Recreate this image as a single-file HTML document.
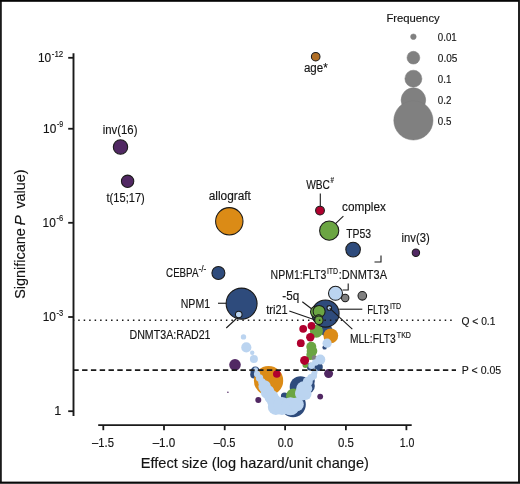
<!DOCTYPE html>
<html><head><meta charset="utf-8"><style>
html,body{margin:0;padding:0;background:#fff;}
body{width:520px;height:484px;overflow:hidden;}
svg{display:block;will-change:transform;}
text{font-family:"Liberation Sans",sans-serif;fill:#141414;stroke:#141414;stroke-width:0.15px;}
.tx{opacity:0.999;}
</style></head><body>
<svg width="520" height="484" viewBox="0 0 520 484">
<rect x="0" y="0" width="520" height="484" fill="#fff"/>
<circle cx="293.1" cy="404.6" r="12.7" fill="#2e4b7c"/><circle cx="300.5" cy="387" r="10.8" fill="#2e4b7c"/><circle cx="306.5" cy="386" r="8.3" fill="#2e4b7c"/><circle cx="310.5" cy="381" r="4.3" fill="#2e4b7c"/><circle cx="284.5" cy="396" r="3.6" fill="#2e4b7c"/><circle cx="255.3" cy="371.2" r="4.7" fill="#2e4b7c"/><circle cx="254.2" cy="374.5" r="4" fill="#2e4b7c"/><circle cx="318.7" cy="367" r="4.1" fill="#2e4b7c"/><circle cx="310.8" cy="366.8" r="4" fill="#2e4b7c"/><circle cx="324.6" cy="347.4" r="2.2" fill="#2e4b7c"/><circle cx="326.6" cy="330.5" r="6" fill="#2e4b7c"/><circle cx="268.55" cy="380.65" r="14.65" fill="#db8b16"/><circle cx="330.8" cy="335.8" r="7.4" fill="#db8b16"/><circle cx="316.4" cy="331.2" r="6.5" fill="#6ba543"/><circle cx="311.3" cy="346.7" r="5" fill="#6ba543"/><circle cx="312" cy="351" r="5.3" fill="#6ba543"/><circle cx="311" cy="354.5" r="4.6" fill="#6ba543"/><circle cx="310.4" cy="356.3" r="3.7" fill="#6ba543"/><circle cx="305.4" cy="365" r="2.9" fill="#6ba543"/><circle cx="293.5" cy="396" r="7.5" fill="#6ba543"/><circle cx="314.5" cy="357.9" r="2.7" fill="#808080"/><circle cx="327.1" cy="343.2" r="4.6" fill="#bbd4f0"/><circle cx="243.5" cy="336.9" r="2.7" fill="#bbd4f0"/><circle cx="246.3" cy="347.4" r="5.1" fill="#bbd4f0"/><circle cx="252.2" cy="352.8" r="2.2" fill="#bbd4f0"/><circle cx="253.9" cy="359" r="4" fill="#bbd4f0"/><circle cx="320.3" cy="359.6" r="5" fill="#bbd4f0"/><circle cx="311.6" cy="365.8" r="3.3" fill="#bbd4f0"/><circle cx="315.4" cy="362.5" r="3.3" fill="#bbd4f0"/><circle cx="314.5" cy="372.8" r="2.9" fill="#bbd4f0"/><circle cx="313.7" cy="376.1" r="3.3" fill="#bbd4f0"/><circle cx="255.6" cy="369.5" r="2.3" fill="#bbd4f0"/><circle cx="257" cy="374" r="3.2" fill="#bbd4f0"/><circle cx="259.5" cy="378" r="3.7" fill="#bbd4f0"/><circle cx="262" cy="382" r="3.8" fill="#bbd4f0"/><circle cx="264.6" cy="386.5" r="6.2" fill="#bbd4f0"/><circle cx="267.6" cy="392" r="6.9" fill="#bbd4f0"/><circle cx="271.5" cy="397" r="7" fill="#bbd4f0"/><circle cx="274" cy="401" r="7" fill="#bbd4f0"/><circle cx="275.8" cy="406.9" r="8" fill="#bbd4f0"/><circle cx="282" cy="406" r="9" fill="#bbd4f0"/><circle cx="290.5" cy="406.3" r="9" fill="#bbd4f0"/><circle cx="296.8" cy="404.4" r="7" fill="#bbd4f0"/><circle cx="302" cy="393.5" r="7" fill="#bbd4f0"/><circle cx="305.5" cy="394" r="6" fill="#bbd4f0"/><circle cx="307.6" cy="388.5" r="4.7" fill="#bbd4f0"/><circle cx="303.8" cy="388.8" r="7.6" fill="#bbd4f0"/><circle cx="307.8" cy="381.8" r="5" fill="#bbd4f0"/><circle cx="311" cy="377.5" r="3.6" fill="#bbd4f0"/><circle cx="314.3" cy="373.3" r="2.6" fill="#bbd4f0"/><circle cx="315.3" cy="371" r="2.3" fill="#bbd4f0"/><circle cx="303.2" cy="328.8" r="3.9" fill="#b0002e"/><circle cx="311.5" cy="325.8" r="3.9" fill="#b0002e"/><circle cx="310.3" cy="337.2" r="4.2" fill="#b0002e"/><circle cx="300.8" cy="343.2" r="3.9" fill="#b0002e"/><circle cx="304.6" cy="360.4" r="4.5" fill="#b0002e"/><circle cx="276.8" cy="374" r="3.8" fill="#b0002e"/><circle cx="235" cy="364.8" r="5.8" fill="#512863"/><circle cx="328.6" cy="373.6" r="4.5" fill="#512863"/><circle cx="258.3" cy="400.1" r="3" fill="#512863"/><circle cx="320.2" cy="396.6" r="2.9" fill="#512863"/><circle cx="227.9" cy="392.2" r="0.8" fill="#512863"/><circle cx="315.7" cy="56.7" r="4.3" fill="#b06e25" stroke="#1a1a1a" stroke-width="1.05"/><circle cx="120.5" cy="147" r="7.2" fill="#512863" stroke="#1a1a1a" stroke-width="1.05"/><circle cx="127.6" cy="181.3" r="6.2" fill="#512863" stroke="#1a1a1a" stroke-width="1.05"/><circle cx="229.3" cy="221.3" r="13.7" fill="#db8b16" stroke="#1a1a1a" stroke-width="1.05"/><circle cx="320" cy="210.6" r="4.4" fill="#b0002e" stroke="#1a1a1a" stroke-width="1.05"/><circle cx="329.2" cy="230.7" r="9.6" fill="#6ba543" stroke="#1a1a1a" stroke-width="1.05"/><circle cx="353.1" cy="249.6" r="7.3" fill="#2e4b7c" stroke="#1a1a1a" stroke-width="1.05"/><circle cx="415.9" cy="252.7" r="3.7" fill="#512863" stroke="#1a1a1a" stroke-width="1.05"/><circle cx="218.4" cy="273" r="6.5" fill="#2e4b7c" stroke="#1a1a1a" stroke-width="1.05"/><circle cx="241.6" cy="303.6" r="15.5" fill="#2e4b7c" stroke="#1a1a1a" stroke-width="1.05"/><circle cx="238.75" cy="314.5" r="3.3" fill="#bbd4f0" stroke="#1a1a1a" stroke-width="1.05"/><circle cx="345.2" cy="298" r="3.7" fill="#808080" stroke="#1a1a1a" stroke-width="1.05"/><circle cx="362.3" cy="295.8" r="4.3" fill="#808080" stroke="#1a1a1a" stroke-width="1.05"/><circle cx="335.5" cy="293.3" r="7" fill="#bbd4f0" stroke="#1a1a1a" stroke-width="1.05"/><circle cx="325.5" cy="313.5" r="13.6" fill="#2e4b7c" stroke="#1a1a1a" stroke-width="1.05"/><circle cx="316.4" cy="311.8" r="5.9" fill="#6ba543" stroke="#1a1a1a" stroke-width="1.05"/><circle cx="319.1" cy="311.4" r="6" fill="#6ba543" stroke="#1a1a1a" stroke-width="1.05"/><circle cx="318.7" cy="318.6" r="3.8" fill="#6ba543" stroke="#1a1a1a" stroke-width="1.05"/><circle cx="318.9" cy="320.3" r="4.2" fill="#6ba543" stroke="#1a1a1a" stroke-width="1.05"/><circle cx="329.3" cy="307.9" r="2.3" fill="#bbd4f0" stroke="#1a1a1a" stroke-width="1.05"/><line x1="218" y1="303.25" x2="226.25" y2="303.25" stroke="#1a1a1a" stroke-width="1.1"/><line x1="226.25" y1="328" x2="236.25" y2="318.75" stroke="#1a1a1a" stroke-width="1.1"/><line x1="320.3" y1="193.4" x2="320.3" y2="206.3" stroke="#1a1a1a" stroke-width="1.1"/><line x1="335.5" y1="223.7" x2="343.4" y2="216.2" stroke="#1a1a1a" stroke-width="1.1"/><polyline points="342.6,290 348.2,290 348.2,283.4" fill="none" stroke="#1a1a1a" stroke-width="1.1"/><polyline points="374.5,262 381,262 381,255.4" fill="none" stroke="#1a1a1a" stroke-width="1.1"/><line x1="302.3" y1="301.8" x2="311.5" y2="308.7" stroke="#1a1a1a" stroke-width="1.1"/><line x1="289.3" y1="311" x2="314.6" y2="319.8" stroke="#1a1a1a" stroke-width="1.1"/><line x1="339.2" y1="309.2" x2="362.3" y2="309.2" stroke="#1a1a1a" stroke-width="1.1"/><line x1="329.6" y1="308.1" x2="352.3" y2="329.2" stroke="#1a1a1a" stroke-width="1.1"/>
<line x1="73.5" y1="320.3" x2="455.5" y2="320.3" stroke="#1a1a1a" stroke-width="1.6" stroke-dasharray="1.5 3.97" stroke-dashoffset="0.75"/><line x1="73.3" y1="370.1" x2="456" y2="370.1" stroke="#1a1a1a" stroke-width="1.9" stroke-dasharray="5.4 3.4"/>
<line x1="73.5" y1="53.2" x2="73.5" y2="416" stroke="#1a1a1a" stroke-width="1.9"/><line x1="98.2" y1="425.1" x2="411.7" y2="425.1" stroke="#1a1a1a" stroke-width="1.8"/><line x1="68.2" y1="57.8" x2="73.5" y2="57.8" stroke="#1a1a1a" stroke-width="1.8"/><line x1="68.2" y1="128.75" x2="73.5" y2="128.75" stroke="#1a1a1a" stroke-width="1.8"/><line x1="68.2" y1="222.8" x2="73.5" y2="222.8" stroke="#1a1a1a" stroke-width="1.8"/><line x1="68.2" y1="317" x2="73.5" y2="317" stroke="#1a1a1a" stroke-width="1.8"/><line x1="68.2" y1="411.2" x2="73.5" y2="411.2" stroke="#1a1a1a" stroke-width="1.8"/><line x1="103.3" y1="425.1" x2="103.3" y2="430.2" stroke="#1a1a1a" stroke-width="1.8"/><line x1="164" y1="425.1" x2="164" y2="430.2" stroke="#1a1a1a" stroke-width="1.8"/><line x1="224.7" y1="425.1" x2="224.7" y2="430.2" stroke="#1a1a1a" stroke-width="1.8"/><line x1="285.1" y1="425.1" x2="285.1" y2="430.2" stroke="#1a1a1a" stroke-width="1.8"/><line x1="345.9" y1="425.1" x2="345.9" y2="430.2" stroke="#1a1a1a" stroke-width="1.8"/><line x1="406.4" y1="425.1" x2="406.4" y2="430.2" stroke="#1a1a1a" stroke-width="1.8"/>
<g class="tx"><text x="37.9" y="62.3" font-size="12.6" textLength="13.2" lengthAdjust="spacingAndGlyphs">10</text><text x="51.8" y="56.9" font-size="9" textLength="11.5" lengthAdjust="spacingAndGlyphs">-12</text><text x="43.1" y="132.8" font-size="12.6" textLength="13.2" lengthAdjust="spacingAndGlyphs">10</text><text x="57.0" y="127.4" font-size="9" textLength="6.3" lengthAdjust="spacingAndGlyphs">-9</text><text x="42.6" y="226.8" font-size="12.6" textLength="13.2" lengthAdjust="spacingAndGlyphs">10</text><text x="56.5" y="221.4" font-size="9" textLength="6.8" lengthAdjust="spacingAndGlyphs">-6</text><text x="42.699999999999996" y="320.9" font-size="12.6" textLength="13.2" lengthAdjust="spacingAndGlyphs">10</text><text x="56.599999999999994" y="315.5" font-size="9" textLength="6.7" lengthAdjust="spacingAndGlyphs">-3</text><text x="61.3" y="415" font-size="12.6" text-anchor="end">1</text><text x="92.05" y="446.7" font-size="12.8" textLength="21.9" lengthAdjust="spacingAndGlyphs">–1.5</text><text x="152.65" y="446.7" font-size="12.8" textLength="22.7" lengthAdjust="spacingAndGlyphs">–1.0</text><text x="213.79999999999998" y="446.7" font-size="12.8" textLength="21.6" lengthAdjust="spacingAndGlyphs">–0.5</text><text x="277.7" y="446.7" font-size="12.8" textLength="15.4" lengthAdjust="spacingAndGlyphs">0.0</text><text x="337.95" y="446.7" font-size="12.8" textLength="15.9" lengthAdjust="spacingAndGlyphs">0.5</text><text x="399.65" y="446.7" font-size="12.8" textLength="14.7" lengthAdjust="spacingAndGlyphs">1.0</text><text x="140.8" y="468.2" font-size="14.1" textLength="228.1" lengthAdjust="spacingAndGlyphs">Effect size (log hazard/unit change)</text><g transform="translate(25.3,0) rotate(-90)"><text x="-298.8" y="0" font-size="15.5" textLength="70.6" lengthAdjust="spacingAndGlyphs">Significane</text><text x="-225.6" y="0" font-size="15.5" font-style="italic">P</text><text x="-208.6" y="0" font-size="15.5" textLength="39.1" lengthAdjust="spacingAndGlyphs">value)</text></g><text x="386.4" y="21.8" font-size="10.1" textLength="53.3" lengthAdjust="spacingAndGlyphs">Frequency</text><circle cx="413.4" cy="36.7" r="2.8" fill="#808080" stroke="#7a7a7a" stroke-width="0.5"/><circle cx="413.4" cy="57.7" r="6.4" fill="#808080" stroke="#7a7a7a" stroke-width="0.5"/><circle cx="413.4" cy="78.7" r="8.5" fill="#808080" stroke="#7a7a7a" stroke-width="0.5"/><circle cx="413.4" cy="100.1" r="12.3" fill="#808080" stroke="#7a7a7a" stroke-width="0.5"/><circle cx="413.4" cy="120.4" r="19.6" fill="#808080" stroke="#7a7a7a" stroke-width="0.5"/><text x="437.8" y="40.9" font-size="11.2" textLength="19" lengthAdjust="spacingAndGlyphs">0.01</text><text x="437.8" y="61.8" font-size="11.2" textLength="19.6" lengthAdjust="spacingAndGlyphs">0.05</text><text x="437.8" y="82.7" font-size="11.2" textLength="13.5" lengthAdjust="spacingAndGlyphs">0.1</text><text x="437.8" y="103.6" font-size="11.2" textLength="13.6" lengthAdjust="spacingAndGlyphs">0.2</text><text x="437.8" y="124.6" font-size="11.2" textLength="13.6" lengthAdjust="spacingAndGlyphs">0.5</text><text x="102.7" y="134" font-size="12.0" textLength="34.8" lengthAdjust="spacingAndGlyphs">inv(16)</text><text x="106.5" y="201.5" font-size="12.0" textLength="38.3" lengthAdjust="spacingAndGlyphs">t(15;17)</text><text x="208.7" y="199.5" font-size="12.0" textLength="42.2" lengthAdjust="spacingAndGlyphs">allograft</text><text x="303.9" y="71.7" font-size="12.0" textLength="23.8" lengthAdjust="spacingAndGlyphs">age*</text><text x="306.2" y="188.6" font-size="12.0" textLength="23.8" lengthAdjust="spacingAndGlyphs">WBC</text><text x="330.6" y="183.1" font-size="8.4" textLength="3.5" lengthAdjust="spacingAndGlyphs">#</text><text x="342" y="211" font-size="12.0" textLength="43.9" lengthAdjust="spacingAndGlyphs">complex</text><text x="346.2" y="238.2" font-size="12.0" textLength="24.9" lengthAdjust="spacingAndGlyphs">TP53</text><text x="401.6" y="242.3" font-size="12.0" textLength="28.2" lengthAdjust="spacingAndGlyphs">inv(3)</text><text x="166.1" y="277.2" font-size="12.0" textLength="32.3" lengthAdjust="spacingAndGlyphs">CEBPA</text><text x="198.5" y="272.4" font-size="8.2" textLength="7.9" lengthAdjust="spacingAndGlyphs">-/-</text><text x="270.6" y="279" font-size="12.0" textLength="55.7" lengthAdjust="spacingAndGlyphs">NPM1:FLT3</text><text x="326.9" y="274.2" font-size="8.2" textLength="11.2" lengthAdjust="spacingAndGlyphs">ITD</text><text x="338.8" y="279" font-size="12.0" textLength="48.2" lengthAdjust="spacingAndGlyphs">:DNMT3A</text><text x="180.75" y="307.5" font-size="12.0" textLength="29.3" lengthAdjust="spacingAndGlyphs">NPM1</text><text x="282.3" y="299.8" font-size="12.0" textLength="16.9" lengthAdjust="spacingAndGlyphs">-5q</text><text x="266.2" y="313.8" font-size="12.0" textLength="21.5" lengthAdjust="spacingAndGlyphs">tri21</text><text x="367.2" y="313.7" font-size="12.0" textLength="21.6" lengthAdjust="spacingAndGlyphs">FLT3</text><text x="389.9" y="308.8" font-size="8.2" textLength="11.3" lengthAdjust="spacingAndGlyphs">ITD</text><text x="129.5" y="338.9" font-size="12.0" textLength="81" lengthAdjust="spacingAndGlyphs">DNMT3A:RAD21</text><text x="349.9" y="342.7" font-size="12.0" textLength="45.9" lengthAdjust="spacingAndGlyphs">MLL:FLT3</text><text x="396.8" y="337.5" font-size="8.2" textLength="14.2" lengthAdjust="spacingAndGlyphs">TKD</text><text x="461.5" y="324.5" font-size="11.2" textLength="33.9" lengthAdjust="spacingAndGlyphs">Q &lt; 0.1</text><text x="461.8" y="373.6" font-size="11.2" textLength="39.4" lengthAdjust="spacingAndGlyphs">P &lt; 0.05</text></g>
<rect x="0" y="0" width="1.8" height="484" fill="#1a1a1a"/>
<rect x="0" y="0" width="520" height="1.8" fill="#050505"/>
<rect x="518.1" y="0" width="1.9" height="484" fill="#0a0a0a"/>
<rect x="519.3" y="0" width="0.7" height="484" fill="#2a2a2a"/>
<rect x="0" y="481.6" width="520" height="2.4" fill="#0a0a0a"/>
<rect x="0" y="483" width="520" height="1" fill="#404040"/>
</svg>
</body></html>
